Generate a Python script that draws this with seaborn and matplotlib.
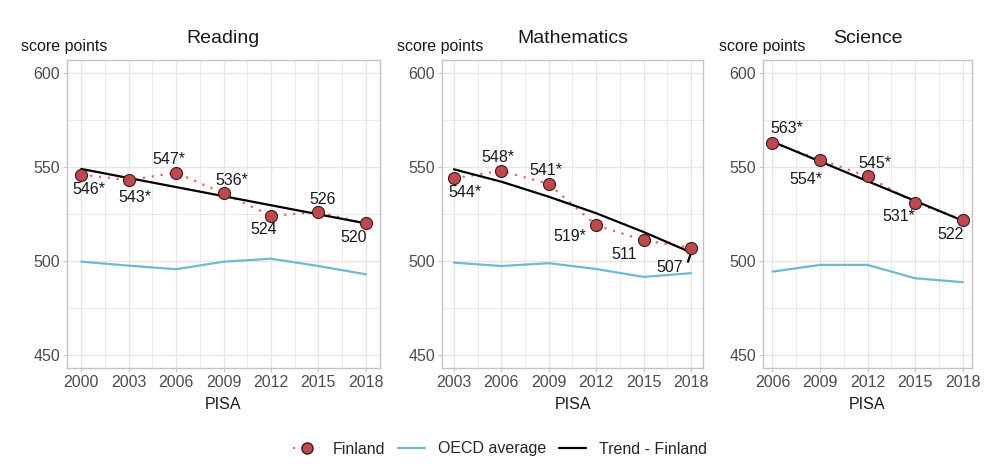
import matplotlib
matplotlib.use("Agg")
import matplotlib.pyplot as plt
import pandas as pd
import seaborn as sns
from matplotlib.lines import Line2D

# data
reading_years = [2000, 2003, 2006, 2009, 2012, 2015, 2018]
reading_fin = [546, 543, 547, 536, 524, 526, 520]
reading_sig = [True, True, True, True, False, False, False]
reading_oecd = [499.6, 497.5, 495.6, 499.6, 501.2, 497.3, 492.9]
reading_trend_years = [2000, 2018]
reading_trend = [549.0, 520.0]

math_years = [2003, 2006, 2009, 2012, 2015, 2018]
math_fin = [544, 548, 541, 519, 511, 507]
math_sig = [True, True, True, True, False, False]
math_oecd = [499.1, 497.3, 498.8, 495.7, 491.5, 493.5]
math_trend_years = [2003, 2006, 2009, 2012, 2015, 2018, 2017.8]
math_trend = [548.8, 542.2, 534.2, 525.4, 515.4, 504.5, 499.5]

sci_years = [2006, 2009, 2012, 2015, 2018]
sci_fin = [563, 554, 545, 531, 522]
sci_sig = [True, True, True, True, False]
sci_oecd = [494.3, 497.9, 497.9, 490.8, 488.7]
sci_trend_years = [2006, 2018]
sci_trend = [563.5, 521.5]

# label offsets (pixels) for each point label
reading_off = [(8, -15), (6, -17), (-7, 13), (8, 13), (-7, -14), (4, 13), (-12, -14)]
math_off = [(11, -14), (-3, 13), (-3, 13), (-26, -11), (-20, -14), (-21, -20)]
sci_off = [(14, 14), (-14, -20), (7, 13), (-16, -14), (-12, -15)]

FIN_RED = "#c0474f"
DOT_RED = "#e06666"
OECD_BLUE = "#6bbad6"
TICK_GRAY = "#4d4d4d"
FRAME = "#c4c4c4"
GRID = "#e6e6e6"
FS = 11.5

sns.set_theme(style="white")
plt.rcParams["font.family"] = ["Liberation Sans", "DejaVu Sans"]

fig = plt.figure(figsize=(10, 4.75), dpi=100)
W, H = 1000, 475


def panel(box, title, years, fin, sig, oecd, t_years, trend, offsets, score_x):
    left, right, top, bottom = box
    ax = fig.add_axes([left / W, (H - bottom) / H, (right - left) / W, (bottom - top) / H])
    span = years[-1] - years[0]
    ax.set_xlim(years[0] - 0.05 * span, years[-1] + 0.05 * span)
    ax.set_ylim(443, 607)

    minors = [y + 1.5 for y in years[:-1]]
    for m in minors:
        ax.axvline(m, color=GRID, lw=0.6, zorder=0)
    for m in [475, 525, 575]:
        ax.axhline(m, color=GRID, lw=0.6, zorder=0)
    for y in years:
        ax.axvline(y, color=GRID, lw=1.0, zorder=0)
    for v in [450, 500, 550, 600]:
        ax.axhline(v, color=GRID, lw=1.0, zorder=0)

    df = pd.DataFrame({"year": years, "fin": fin, "oecd": oecd})
    tdf = pd.DataFrame({"year": t_years, "trend": trend})
    sns.lineplot(data=df, x="year", y="oecd", color=OECD_BLUE, lw=1.6, ax=ax, zorder=2)
    sns.lineplot(data=df, x="year", y="fin", color=DOT_RED, lw=1.6, ax=ax,
                 linestyle=(0, (1, 3)), zorder=3)
    ax.plot(tdf["year"], tdf["trend"], color="black", lw=1.6, zorder=4)
    sns.scatterplot(data=df, x="year", y="fin", color=FIN_RED, edgecolor="#3a1a1a",
                    linewidth=0.8, s=75, ax=ax, zorder=5)

    for x, v, s, (dx, dy) in zip(years, fin, sig, offsets):
        ax.annotate(f"{v}*" if s else f"{v}", (x, v), xytext=(dx, dy),
                    textcoords="offset pixels", ha="center", va="center",
                    fontsize=FS, color="#1a1a1a", zorder=6)

    ax.set_xticks(years)
    ax.set_yticks([450, 500, 550, 600])
    ax.tick_params(axis="both", colors=FRAME, labelcolor=TICK_GRAY, labelsize=FS,
                   length=3, width=0.8, bottom=True, left=True, pad=2)
    for sp in ax.spines.values():
        sp.set_color(FRAME)
        sp.set_linewidth(1.0)
    ax.set_xlabel("PISA", fontsize=FS, color="#1a1a1a", labelpad=5)
    ax.set_ylabel("")
    ax.set_title(title, fontsize=14, color="#1a1a1a", pad=12)
    fig.text(score_x / W, (H - 47) / H, "score points", fontsize=FS,
             color="#1a1a1a", ha="left", va="center")
    return ax


panel((67, 380, 60, 368), "Reading", reading_years, reading_fin, reading_sig,
      reading_oecd, reading_trend_years, reading_trend, reading_off, 21)
panel((442, 703, 60, 368), "Mathematics", math_years, math_fin, math_sig,
      math_oecd, math_trend_years, math_trend, math_off, 397)
panel((763, 972, 60, 368), "Science", sci_years, sci_fin, sci_sig,
      sci_oecd, sci_trend_years, sci_trend, sci_off, 719)

handles = [
    Line2D([], [], color=DOT_RED, linestyle=(0, (1, 3)), lw=1.6, marker="o",
           markerfacecolor=FIN_RED, markeredgecolor="#3a1a1a", markersize=8),
    Line2D([], [], color=OECD_BLUE, lw=1.6),
    Line2D([], [], color="black", lw=1.6),
]
fig.legend(handles, ["Finland", "OECD average", "Trend - Finland"], loc="center",
           bbox_to_anchor=(0.5, (H - 449) / H), ncol=3, frameon=False,
           fontsize=FS, handlelength=1.7, columnspacing=0.8, handletextpad=0.8)

fig.savefig("out.png", dpi=100, facecolor="white")
